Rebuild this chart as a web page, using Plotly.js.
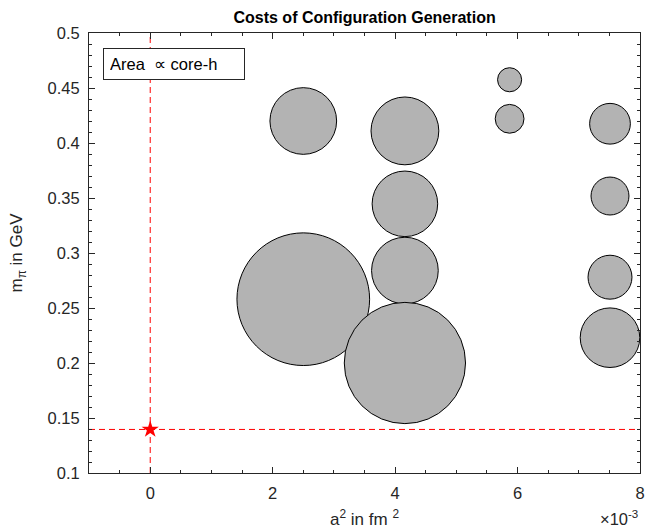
<!DOCTYPE html>
<html>
<head>
<meta charset="utf-8">
<script src="https://cdn.plot.ly/plotly-3.0.1.min.js"></script>
<style>html,body{margin:0;padding:0;background:#fff;}#chart{width:647px;height:530px;}</style>
</head>
<body>
<div id="chart"></div>
<script>
// lattice spacing squared (units of 1e-3 fm^2)
var aSquared = [2.5, 4.16, 5.87, 5.87, 7.51, 4.16, 7.51, 2.5, 4.16, 7.51, 4.16, 7.51];
// pion mass in GeV
var mPi = [0.420, 0.411, 0.4575, 0.422, 0.4175, 0.3447, 0.3518, 0.258, 0.284, 0.278, 0.200, 0.223];
// relative cost in core-h (area of bubble)
var coreH = [44.5, 46.0, 5.8, 8.3, 16.6, 43.0, 14.4, 176.0, 44.5, 19.3, 147.0, 35.5];
// physical point
var physA2 = [0];
var physMpi = [0.1396];
var xTickVals = [0, 2, 4, 6, 8];
var yTickVals = [0.1, 0.15, 0.2, 0.25, 0.3, 0.35, 0.4, 0.45, 0.5];
var yTickText = ['0.1', '0.15', '0.2', '0.25', '0.3', '0.35', '0.4', '0.45', '0.5'];

var tickFont = {family: 'Liberation Sans, Arial, sans-serif', size: 16.5, color: '#262626'};
var titleFont = {family: 'Liberation Sans, Arial, sans-serif', size: 17, color: '#262626'};

var traces = [
  {
    type: 'scatter', mode: 'markers',
    x: aSquared, y: mPi,
    marker: {
      size: coreH, sizemode: 'area', sizeref: 0.02,
      color: '#b3b3b3', opacity: 1,
      line: {color: '#000000', width: 1}
    },
    hoverinfo: 'x+y', showlegend: false, cliponaxis: false
  },
  {
    type: 'scatter', mode: 'lines',
    x: [physA2[0], physA2[0]], y: [0.1, 0.5],
    line: {color: '#ff0000', width: 1, dash: '6px,4px'},
    showlegend: false, hoverinfo: 'skip'
  },
  {
    type: 'scatter', mode: 'lines',
    x: [-1, 8], y: [physMpi[0], physMpi[0]],
    line: {color: '#ff0000', width: 1, dash: '6px,4px'},
    showlegend: false, hoverinfo: 'skip'
  },
  {
    type: 'scatter', mode: 'markers',
    x: physA2, y: physMpi,
    marker: {symbol: 'star', size: 13, color: '#ff0000', line: {width: 0}},
    showlegend: false
  }
];

var layout = {
  width: 647, height: 530,
  margin: {l: 89, r: 7, t: 33, b: 57},
  paper_bgcolor: '#ffffff', plot_bgcolor: '#ffffff',
  font: tickFont,
  title: {
    text: '<b>Costs of Configuration Generation</b>',
    font: {family: 'Liberation Sans, Arial, sans-serif', size: 16, color: '#000000'},
    x: 0.5635, xanchor: 'center', y: 0.968, yanchor: 'middle'
  },
  xaxis: {
    range: [-1, 8], autorange: false,
    tickvals: xTickVals, ticktext: ['0', '2', '4', '6', '8'],
    ticks: 'inside', ticklen: 6, tickwidth: 1, tickcolor: '#262626',
    showline: true, linecolor: '#262626', linewidth: 1, mirror: 'allticks',
    showgrid: false, zeroline: false,
    minor: {dtick: 0.5, tick0: 0, ticks: 'inside', ticklen: 3, tickcolor: '#262626', showgrid: false},
    tickfont: tickFont, ticklabelstandoff: 5,
    title: {text: 'a<sup>2</sup> in fm <sup>2</sup>', font: titleFont, standoff: 12}
  },
  yaxis: {
    range: [0.1, 0.5], autorange: false,
    tickvals: yTickVals, ticktext: yTickText,
    ticks: 'inside', ticklen: 6, tickwidth: 1, tickcolor: '#262626',
    showline: true, linecolor: '#262626', linewidth: 1, mirror: 'allticks',
    showgrid: false, zeroline: false,
    minor: {dtick: 0.01, tick0: 0.1, ticks: 'inside', ticklen: 3, tickcolor: '#262626', showgrid: false},
    tickfont: tickFont, ticklabelstandoff: 5,
    title: {text: 'm<sub>π</sub> in GeV', font: titleFont, standoff: 20}
  },
  annotations: [
    {
      xref: 'paper', yref: 'paper', x: 0.026, y: 0.966, xanchor: 'left', yanchor: 'top',
      text: 'Area  ∝ core-h', showarrow: false,
      font: {family: 'Liberation Sans, Arial, sans-serif', size: 16.5, color: '#000000'},
      bordercolor: '#262626', borderwidth: 1, borderpad: 6, bgcolor: '#ffffff',
      width: 128, align: 'left'
    },
    {
      xref: 'paper', yref: 'paper', x: 1.0, y: -0.075, xanchor: 'right', yanchor: 'top',
      text: '×10<sup>-3</sup>', showarrow: false,
      font: tickFont
    }
  ],
  showlegend: false
};

Plotly.newPlot('chart', traces, layout, {displayModeBar: false, staticPlot: true});
</script>
</body>
</html>
